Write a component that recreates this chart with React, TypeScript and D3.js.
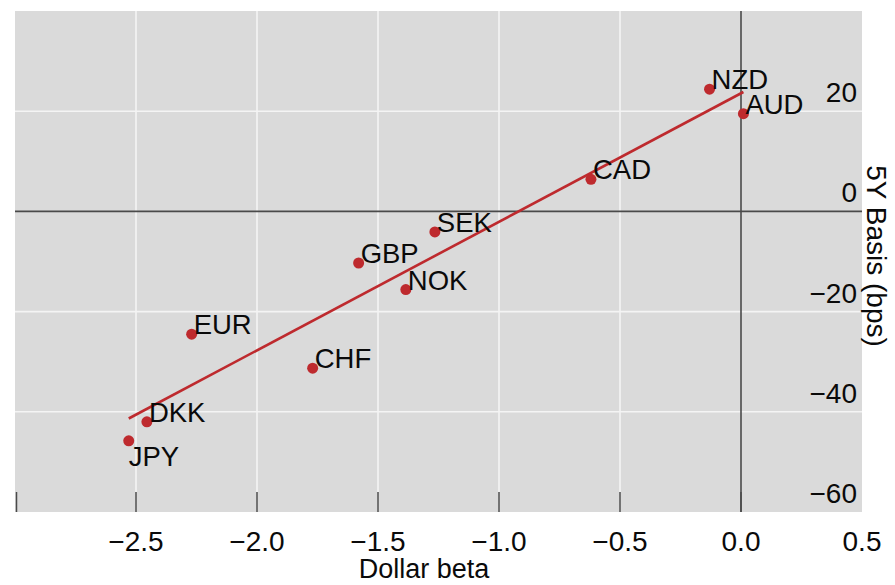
import React from "react";
import * as d3 from "d3";

const currencies = ["NZD", "AUD", "CAD", "SEK", "GBP", "NOK", "EUR", "CHF", "DKK", "JPY"];
const dollarBeta = [-0.13, 0.01, -0.62, -1.265, -1.58, -1.385, -2.27, -1.77, -2.455, -2.53];
const basis5y = [24.4, 19.5, 6.4, -4.1, -10.3, -15.6, -24.5, -31.3, -42.0, -45.8];
const labelsBelow = ["JPY"];

const xTickMarks = [-3.0, -2.5, -2.0, -1.5, -1.0, -0.5, 0.0];
const xTickLabels = [-2.5, -2.0, -1.5, -1.0, -0.5, 0.0, 0.5];
const xGrid = [-2.5, -2.0, -1.5, -1.0, -0.5];
const yTicks = [20, 0, -20, -40, -60];
const yGrid = [20, -20, -40];

const xTitle = "Dollar beta";
const yTitle = "5Y Basis (bps)";

const W = 895;
const H = 585;
const panel = { left: 15, right: 862, top: 11, bottom: 512 };
const RED = "#be2a2e";
const FONT = "'Liberation Sans', Arial, Helvetica, sans-serif";
const INK = "#0a0a0a";

export default function App() {
  const x = d3.scaleLinear().domain([-3, 0.5]).range([panel.left, panel.right]);
  const y = d3.scaleLinear().domain([-60, 40]).range([panel.bottom, panel.top]);
  const fmtX = d3.format(".1f");
  const fmtY = d3.format("d");

  const pts = currencies.map((c, i) => ({ c, xv: dollarBeta[i], yv: basis5y[i] }));
  const mx = d3.mean(pts, (p) => p.xv) as number;
  const my = d3.mean(pts, (p) => p.yv) as number;
  const sxy = d3.sum(pts, (p) => (p.xv - mx) * (p.yv - my));
  const sxx = d3.sum(pts, (p) => (p.xv - mx) ** 2);
  const slope = sxy / sxx;
  const intercept = my - slope * mx;
  const [x0, x1] = d3.extent(pts, (p) => p.xv) as [number, number];
  const fit = d3
    .line<number>()
    .x((v) => x(v))
    .y((v) => y(intercept + slope * v))([x0, x1]);

  return (
    <svg
      width={W}
      height={H}
      style={{ position: "absolute", left: 0, top: 0, background: "#fff" }}
      fontFamily={FONT}
    >
      <rect
        x={panel.left}
        y={panel.top}
        width={panel.right - panel.left}
        height={panel.bottom - panel.top}
        fill="#dadada"
      />
      {xGrid.map((v) => (
        <line key={"gx" + v} x1={x(v)} x2={x(v)} y1={panel.top} y2={panel.bottom} stroke="#f4f4f4" strokeWidth={1.6} />
      ))}
      {yGrid.map((v) => (
        <line key={"gy" + v} x1={panel.left} x2={panel.right} y1={y(v)} y2={y(v)} stroke="#f4f4f4" strokeWidth={1.6} />
      ))}
      <line x1={x(0)} x2={x(0)} y1={panel.top} y2={panel.bottom} stroke="#4a4a4a" strokeWidth={1.6} />
      <line x1={panel.left} x2={panel.right} y1={y(0)} y2={y(0)} stroke="#4a4a4a" strokeWidth={1.6} />
      {xTickMarks.map((v) => (
        <line
          key={"tm" + v}
          x1={Math.max(x(v), panel.left + 1.5)}
          x2={Math.max(x(v), panel.left + 1.5)}
          y1={panel.bottom - 20}
          y2={panel.bottom}
          stroke="#4a4a4a"
          strokeWidth={1.5}
        />
      ))}
      {yTicks.map((v) => (
        <text key={"yl" + v} x={857} y={y(v) - 9} textAnchor="end" fontSize={28} fill={INK}>
          {fmtY(v)}
        </text>
      ))}
      {xTickLabels.map((v) => (
        <text key={"xl" + v} x={x(v)} y={551} textAnchor="middle" fontSize={28} fill={INK}>
          {fmtX(v)}
        </text>
      ))}
      <text x={424} y={578} textAnchor="middle" fontSize={27} fill={INK}>
        {xTitle}
      </text>
      <text
        transform={`translate(866.5,256) rotate(90)`}
        textAnchor="middle"
        fontSize={28}
        fill={INK}
      >
        {yTitle}
      </text>
      <path d={fit ?? ""} fill="none" stroke={RED} strokeWidth={2.6} />
      {pts.map((p) => (
        <circle key={"pt" + p.c} cx={x(p.xv)} cy={y(p.yv)} r={5.5} fill={RED} />
      ))}
      {pts.map((p) => {
        const below = labelsBelow.includes(p.c);
        return (
          <text
            key={"lb" + p.c}
            x={x(p.xv) + (below ? 0 : 2)}
            y={y(p.yv) + (below ? 25 : 0)}
            fontSize={27.5}
            fill={INK}
          >
            {p.c}
          </text>
        );
      })}
    </svg>
  );
}
